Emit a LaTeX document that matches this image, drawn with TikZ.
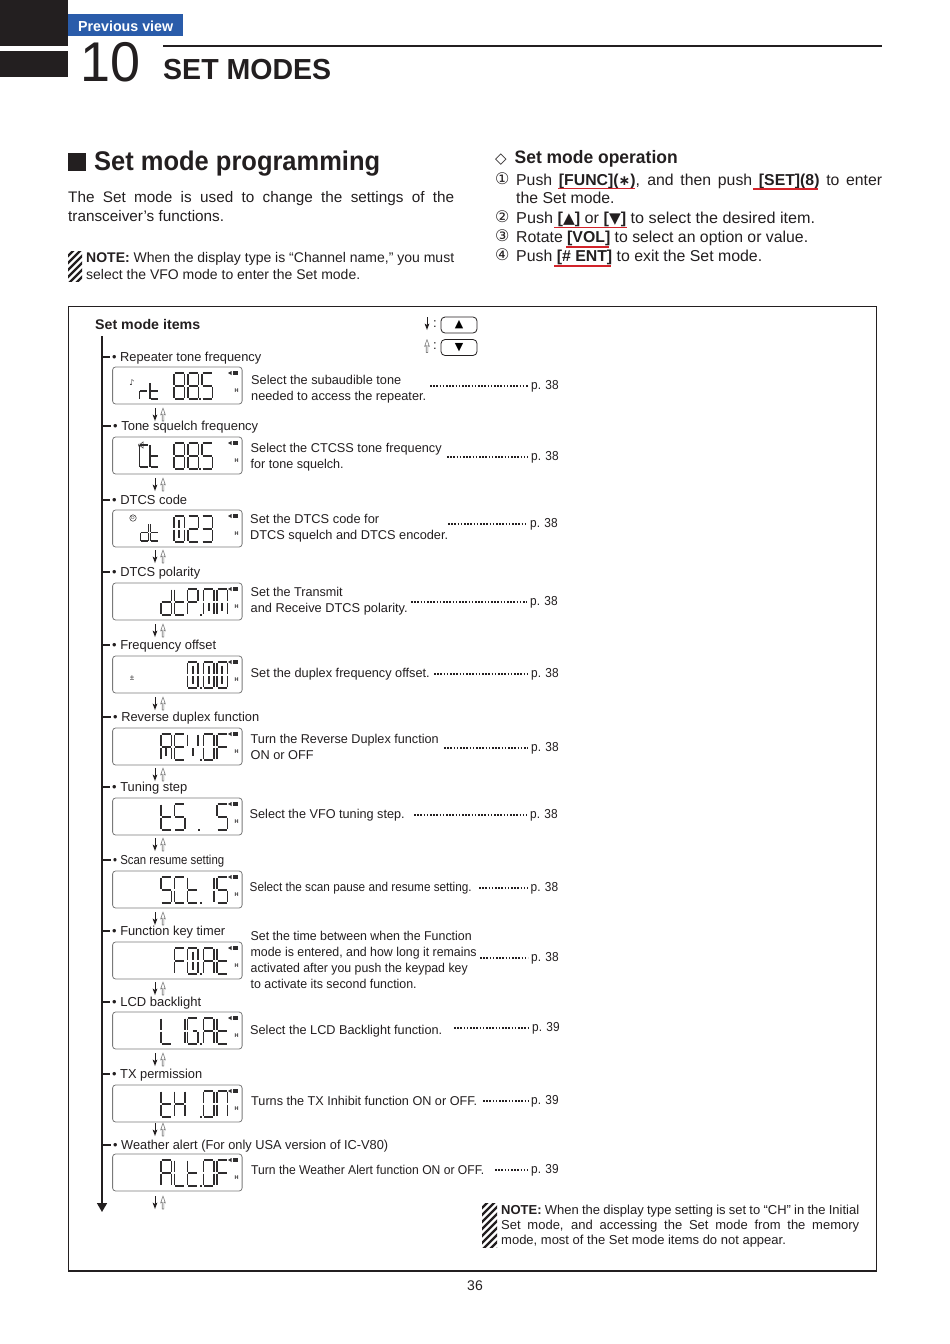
\documentclass[tikz,border=0pt]{standalone}
\usepackage{fontspec}
\usepackage{graphicx}
\setmainfont{Liberation Sans}
\newfontfamily\dv{DejaVu Sans}
\usetikzlibrary{arrows.meta}
\definecolor{ink}{HTML}{231F20}
\definecolor{lcdink}{HTML}{2E2C2D}
\definecolor{boxgray}{HTML}{7A7A7A}
\definecolor{hollow}{HTML}{7F7F7F}
\definecolor{redline}{HTML}{D2232A}
\definecolor{tabblue}{HTML}{2A5CAA}
\newcommand\fl[2]{\resizebox{#1pt}{\height}{#2}}
\newcommand\js[2]{\makebox[#1pt][s]{#2}}
\newcommand\fs[2]{\fontsize{#1}{#2}\selectfont}
\def\sgT{(.06,0)--(.94,0)}
\def\sgU{(0,.02)--(0,.48)}
\def\sgV{(1,.02)--(1,.48)}
\def\sgM{(.06,.5)--(.94,.5)}
\def\sgL{(0,.52)--(0,.98)}
\def\sgR{(1,.52)--(1,.98)}
\def\sgB{(.06,1)--(.94,1)}
\def\sgC{(.5,.14)--(.5,.46)}
\def\sgE{(.5,.54)--(.5,.86)}
\newcommand\defglyph[2]{\tikzset{pics/lcd#1/.style={code={\draw[lcdseg] #2;}}}}
\tikzset{
  lcdseg/.style={draw=lcdink,line width=1.7pt},
  lcdbox/.style={draw=boxgray,line width=.8pt,rounded corners=3pt,minimum width=129.5pt,minimum height=37pt,anchor=north west,inner sep=0pt,fill=white},
  desc/.style={anchor=base west,inner sep=0pt,align=left,text=ink,font=\fs{12.8}{15.9}},
  itm/.style={anchor=base west,inner sep=0pt,text=ink,font=\fs{13}{15}},
  pref/.style={anchor=base west,inner sep=0pt,text=ink,font=\fs{13}{15}},
  body/.style={anchor=base west,inner sep=0pt,align=left,text=ink},
  leaderln/.style={draw=ink,line width=1.5pt,dash pattern=on 1.6pt off 1.6pt,shorten >=3pt},
  tickln/.style={draw=ink,line width=1.4pt,shorten >=2.5pt},
  redln/.style={draw=redline,line width=1.2pt},
  btn/.style={draw=ink,line width=.8pt,rounded corners=4pt,minimum width=36pt,minimum height=16pt,inner sep=0pt},
  pics/dnar/.style={code={
    \draw[ink,line width=.9pt] (0,0)--(0,8);
    \fill[ink] (-2.4,6.5)--(0,13)--(2.4,6.5)--(0,8)--cycle;}},
  pics/upar/.style={code={
    \draw[hollow,line width=.6pt,line join=round] (-.8,13)--(-.8,6)--(-2.4,7)--(0,0)--(2.4,7)--(.8,6)--(.8,13)--cycle;}},
  pics/navpair/.style={code={\pic at (0,0) {dnar}; \pic at (8,0) {upar};}},
}
\defglyph{8}{\sgT \sgU \sgV \sgM \sgL \sgR \sgB}
\defglyph{5}{\sgT \sgU \sgM \sgR \sgB}
\defglyph{0}{\sgT \sgU \sgV \sgL \sgR \sgB \sgC \sgE}
\defglyph{2}{\sgT \sgV \sgM \sgL \sgB}
\defglyph{3}{\sgT \sgV \sgM \sgR \sgB}
\defglyph{1}{\sgV \sgR}
\defglyph{r}{\sgM \sgL}
\defglyph{t}{\sgU \sgM \sgL \sgB}
\defglyph{d}{\sgV \sgM \sgL \sgR \sgB}
\defglyph{C}{\sgT \sgU \sgL \sgB}
\defglyph{P}{\sgT \sgU \sgV \sgM \sgL}
\defglyph{n}{\sgT \sgU \sgV \sgL \sgR \sgE}
\defglyph{N}{\sgT \sgU \sgV \sgL \sgR}
\defglyph{O}{\sgT \sgU \sgV \sgL \sgR \sgB}
\defglyph{A}{\sgT \sgU \sgV \sgM \sgL \sgR}
\defglyph{R}{\sgT \sgU \sgV \sgM \sgL \sgR \sgE}
\defglyph{E}{\sgT \sgU \sgM \sgL \sgB}
\defglyph{V}{\sgU \sgV \sgE}
\defglyph{F}{\sgT \sgU \sgM \sgL}
\defglyph{L}{\sgU \sgL \sgB}
\defglyph{G}{\sgT \sgU \sgL \sgB \sgR (.5,.5)--(.94,.5)}
\defglyph{X}{\sgU \sgV \sgM \sgL \sgR}
% one large LCD character: glyph, x; top taken from \yy
\def\Pa{161}\def\Pb{174.5}\def\Pc{187.5}\def\Pd{203.5}\def\Pe{217}
\newcommand\g[2]{\pic[xscale=10.5,yscale=26] at (#2,\yy) {lcd#1};}
\newcommand\sm[5]{\pic[xscale=#4,yscale=#5] at (#2,#3) {lcd#1};}
\newcommand\dt[1]{\fill[lcdink] (#1-.9,\yy+24.6) rectangle ++(1.9,1.9);}
\newcommand\lcd[2]{% number, top
  \node[lcdbox] (d#1) at (112.2,#2-.4) {};
  \fill[lcdink] (228,#2+6)--(231.5,#2+4)--(231.5,#2+8)--cycle;
  \fill[lcdink] (232.5,#2+4) rectangle (237.5,#2+8);
  \node[inner sep=0pt,font=\bfseries\fs{5.5}{6},text=lcdink] (h#1) at (236.5,#2+23.5) {H};
  \pgfmathsetmacro\yy{#2+6}
}
\newcommand\itemlab[4]{% number,x,baseline,text
  \node[itm] (i#1) at (#2,#3) {#4};
  \coordinate (s#1) at (102,#3-4.5);
  \draw[tickln] (s#1) -- (i#1.west |- s#1);
}
\newcommand\dsc[4]{\node[desc] (t#1) at (#2,#3) {#4};}
\newcommand\lead[5]{% number, start x, y, page x, page reference
  \node[pref] (p#1) at (#4,#3+3.2) {\fl{27.5}{#5}};
  \coordinate (l#1) at (#2,#3);
  \draw[leaderln] (l#1) -- (p#1.west |- l#1);
}
\newcommand\hatchicon[4]{%
  \begin{scope}
    \clip (#1,#2) rectangle (#3,#4);
    \foreach \k in {0,7,...,84}{
      \draw[ink,line width=2.2pt] (#1-2,#2+\k)--(#1+30,#2+\k-32);
    }
  \end{scope}
}
\begin{document}
\begin{tikzpicture}[x=1pt,y=-1pt]
\useasboundingbox (0,0) rectangle (950,1344);
\fill[white] (0,0) rectangle (950,1344);
% ---------- header
\fill[ink] (0,0) rectangle (68,46);
\fill[ink] (0,51) rectangle (68,77);
\node[fill=tabblue,minimum width=115pt,minimum height=22pt,inner sep=0pt,anchor=north west] (tab) at (68,14) {};
\node[anchor=base west,inner sep=0pt,text=white,font=\bfseries\fs{14.5}{16}] (prev) at (78,31) {\fl{95}{Previous view}};
\node[body,font=\fs{56}{60}] (chap) at (80,81) {\fl{60}{10}};
\coordinate (ruleA) at (163,46);
\coordinate (ruleB) at (882,46);
\draw[ink,line width=2.2pt] (ruleA) -- (ruleB);
\node[body,font=\bfseries\fs{29}{32}] (title) at (163,79) {\fl{168}{SET MODES}};
% ---------- left column
\fill[ink] (68,152.5) rectangle (86,170.5);
\node[body,font=\bfseries\fs{27}{30}] (sec) at (94,170.5) {\fl{286}{Set mode programming}};
\node[body,font=\fs{15.3}{19.5}] (para) at (68,221.8) {\js{386}{The Set mode is used to change the settings of the}\\transceiver’s functions.};
\hatchicon{68}{251}{82}{281}
\node[body,font=\fs{14}{17.5}] (note1) at (86,279.5) {\fl{368}{\textbf{NOTE:} When the display type is “Channel name,” you must}\\\fl{274}{select the VFO mode to enter the Set mode.}};
% ---------- right column
\node[body,font=\dv\bfseries\fs{15}{18}] (diam) at (495,163) {◇};
\node[body,font=\bfseries\fs{18}{21}] (op) at (514.5,163) {\fl{163}{Set mode operation}};
\node[body,font=\dv\fs{16}{18}] (n1) at (495,184.5) {①};
\node[body,font=\dv\fs{16}{18}] (n2) at (495,222.5) {②};
\node[body,font=\dv\fs{16}{18}] (n3) at (495,241.5) {③};
\node[body,font=\dv\fs{16}{18}] (n4) at (495,260.5) {④};
\node[body,font=\fs{15.8}{18.9}] (s1) at (516,203.9) {\js{366}{Push \textbf{[FUNC]({\dv\fs{14}{14}∗})}, and then push \textbf{[SET](8)} to enter}\\the Set mode.};
\node[body,font=\fs{15.8}{18.9}] (s2) at (516,223) {\fl{299}{Push \textbf{[{\dv\fs{15}{14}▲}]} or \textbf{[{\dv\fs{15}{14}▼}]} to select the desired item.}};
\node[body,font=\fs{15.8}{18.9}] (s3) at (516,242) {\fl{292}{Rotate \textbf{[VOL]} to select an option or value.}};
\node[body,font=\fs{15.8}{18.9}] (s4) at (516,261) {\fl{246}{Push \textbf{[\# ENT]} to exit the Set mode.}};
\coordinate (rA) at (558,188.5); \coordinate (rB) at (635,188.5);
\coordinate (rC) at (753,189); \coordinate (rD) at (818,189);
\coordinate (rE) at (554,227.5); \coordinate (rF) at (627,227.5);
\coordinate (rG) at (566,247); \coordinate (rH) at (609,247);
\coordinate (rI) at (554,266); \coordinate (rJ) at (611,266);
\draw[redln] (rA) -- (rB);
\draw[redln] (rC) -- (rD);
\draw[redln] (rE) -- (rF);
\draw[redln] (rG) -- (rH);
\draw[redln] (rI) -- (rJ);
% ---------- frame
\node[draw=ink,line width=1.5pt,minimum width=808pt,minimum height=964.5pt,inner sep=0pt,anchor=north west] (frame) at (67.7,305.5) {};
\node[body,font=\bfseries\fs{14}{16}] (head) at (95,329) {\fl{105}{Set mode items}};
% legend
\pic at (427,317) {dnar};
\pic at (427,339.5) {upar};
\node[body,font=\fs{13}{15}] (c1) at (433,327) {:};
\node[body,font=\fs{13}{15}] (c2) at (433,349) {:};
\node[btn,font=\dv\fs{11}{13}] (bup) at (459,325) {▲};
\node[btn,font=\dv\fs{11}{13}] (bdn) at (459,347.5) {▼};
% spine
\coordinate (spineA) at (102,336);
\coordinate (spineB) at (102,1212);
\draw[ink,line width=1.6pt,-{Stealth[length=9pt,width=10pt,inset=0pt]}] (spineA) -- (spineB);
% ---------- item labels
\itemlab{1}{112}{361.5}{\fl{149}{• Repeater tone frequency}}
\itemlab{2}{113}{430.5}{\fl{145}{• Tone squelch frequency}}
\itemlab{3}{112}{504.5}{\fl{75}{• DTCS code}}
\itemlab{4}{112}{576.5}{\fl{88}{• DTCS polarity}}
\itemlab{5}{112}{649.5}{\fl{104}{• Frequency offset}}
\itemlab{6}{113}{721.5}{\fl{146}{• Reverse duplex function}}
\itemlab{7}{112}{791.5}{\fl{75}{• Tuning step}}
\itemlab{8}{113}{864.5}{\fl{111}{• Scan resume setting}}
\itemlab{9}{112}{935.5}{\fl{113}{• Function key timer}}
\itemlab{10}{112}{1006.5}{\fl{89}{• LCD backlight}}
\itemlab{11}{112}{1078.5}{\fl{90}{• TX permission}}
\itemlab{12}{113}{1149.5}{\fl{275}{• Weather alert (For only USA version of IC-V80)}}
% ---------- LCD 1
\lcd{1}{367}
\g{8}{174}\g{8}{188}\dt{200}\g{5}{202}
\sm{r}{139.5}{383}{8}{16}\sm{t}{150}{383}{9}{16}
\node[inner sep=0pt,font=\dv\fs{8}{9},text=lcdink] (ic1) at (132,383) {♪};
% LCD 2
\lcd{2}{437}
\g{8}{174}\g{8}{188}\dt{200}\g{5}{202}
\sm{C}{139.5}{445}{9}{22}\sm{t}{150}{445}{9}{22}
\draw[lcdink,line width=.5pt] (138.5,444)--(140.5,444)--(143,442)--(143,448)--(140.5,446)--(138.5,446)--cycle;
% LCD 3
\lcd{3}{510}
\g{0}{174}\g{2}{188}\g{3}{202}
\sm{d}{140.5}{524}{8}{17}\sm{t}{150.5}{524}{8}{17}
\node[draw=lcdink,circle,line width=.5pt,minimum size=6.5pt,inner sep=0pt,font=\fs{4.5}{5},text=lcdink] (ic3) at (133,518) {D};
% LCD 4
\lcd{4}{583}
\g{d}{\Pa}\g{t}{\Pb}\g{P}{\Pc}\dt{201}\g{n}{\Pd}\g{n}{\Pe}
% LCD 5
\lcd{5}{656}
\g{0}{\Pc}\dt{200.5}\g{0}{\Pd}\g{0}{\Pe}
\node[inner sep=0pt,font=\fs{8}{9},text=lcdink] (ic5) at (132,678.5) {±};
% LCD 6
\lcd{6}{728}
\g{R}{\Pa}\g{E}{\Pb}\g{V}{\Pc}\dt{200.5}\g{O}{\Pd}\g{F}{\Pe}
% LCD 7
\lcd{7}{798}
\g{t}{\Pa}\g{5}{\Pb}\dt{199}\g{5}{\Pe}
% LCD 8
\lcd{8}{871}
\g{5}{\Pa}\g{C}{\Pb}\g{t}{\Pc}\dt{200.5}\g{1}{\Pd}\g{5}{\Pe}
% LCD 9
\lcd{9}{942}
\g{F}{\Pb}\g{0}{\Pc}\dt{200.5}\g{A}{\Pd}\g{t}{\Pe}
% LCD 10
\lcd{10}{1012}
\g{L}{\Pa}\g{1}{\Pb}\g{G}{\Pc}\dt{200.5}\g{A}{\Pd}\g{t}{\Pe}
% LCD 11
\lcd{11}{1085}
\g{t}{\Pa}\g{X}{\Pb}\dt{200.5}\g{O}{\Pd}\g{N}{\Pe}
% LCD 12
\lcd{12}{1154}
\g{A}{\Pa}\g{L}{\Pb}\g{t}{\Pc}\dt{200.5}\g{O}{\Pd}\g{F}{\Pe}
% ---------- up/down pairs
\foreach \ya in {408,478,550,624,697,768,838,912,982,1053,1123,1196}{\pic at (155,\ya) {navpair};}
% ---------- descriptions
\dsc{1}{251}{400}{\fl{150}{Select the subaudible tone}\\\fl{175}{needed to access the repeater.}}
\dsc{2}{250.5}{468.4}{\fl{191}{Select the CTCSS tone frequency}\\\fl{93}{for tone squelch.}}
\dsc{3}{250}{539.4}{\fl{129}{Set the DTCS code for}\\\fl{198}{DTCS squelch and DTCS encoder.}}
\dsc{4}{250.5}{612.4}{\fl{92}{Set the Transmit}\\\fl{157}{and Receive DTCS polarity.}}
\dsc{5}{250.5}{677.5}{\fl{179}{Set the duplex frequency offset.}}
\dsc{6}{250.5}{759.4}{\fl{188}{Turn the Reverse Duplex function}\\\fl{63}{ON or OFF}}
\dsc{7}{249.5}{818.5}{\fl{155}{Select the VFO tuning step.}}
\dsc{8}{249.5}{891.5}{\fl{222}{Select the scan pause and resume setting.}}
\dsc{9}{250.5}{988.2}{\fl{221}{Set the time between when the Function}\\\fl{226}{mode is entered, and how long it remains}\\\fl{217}{activated after you push the keypad key}\\\fl{166}{to activate its second function.}}
\dsc{10}{250}{1034.5}{\fl{192}{Select the LCD Backlight function.}}
\dsc{11}{251}{1105.5}{\fl{226}{Turns the TX Inhibit function ON or OFF.}}
\dsc{12}{251}{1174.5}{\fl{233}{Turn the Weather Alert function ON or OFF.}}
% ---------- leaders and page references
\lead{1}{430}{386}{531}{p. 38}
\lead{2}{447}{457}{531}{p. 38}
\lead{3}{448}{524}{530}{p. 38}
\lead{4}{411}{602}{530}{p. 38}
\lead{5}{434}{674}{531}{p. 38}
\lead{6}{444}{748}{531}{p. 38}
\lead{7}{414}{815}{530}{p. 38}
\lead{8}{479}{888}{530.5}{p. 38}
\lead{9}{480}{958}{531}{p. 38}
\lead{10}{454}{1028}{532}{p. 39}
\lead{11}{483}{1101}{531}{p. 39}
\lead{12}{495}{1170}{531}{p. 39}
% ---------- bottom note
\hatchicon{482}{1203}{497}{1247}
\node[body,font=\fs{13}{15.3}] (note2) at (501,1244.6) {\js{358}{\textbf{NOTE:} When the display type setting is set to “CH” in the Initial}\\\js{358}{Set mode, and accessing the Set mode from the memory}\\mode, most of the Set mode items do not appear.};
\node[inner sep=0pt,text=ink,font=\fs{14}{16}] (page) at (475,1286) {36};
\end{tikzpicture}
\end{document}
